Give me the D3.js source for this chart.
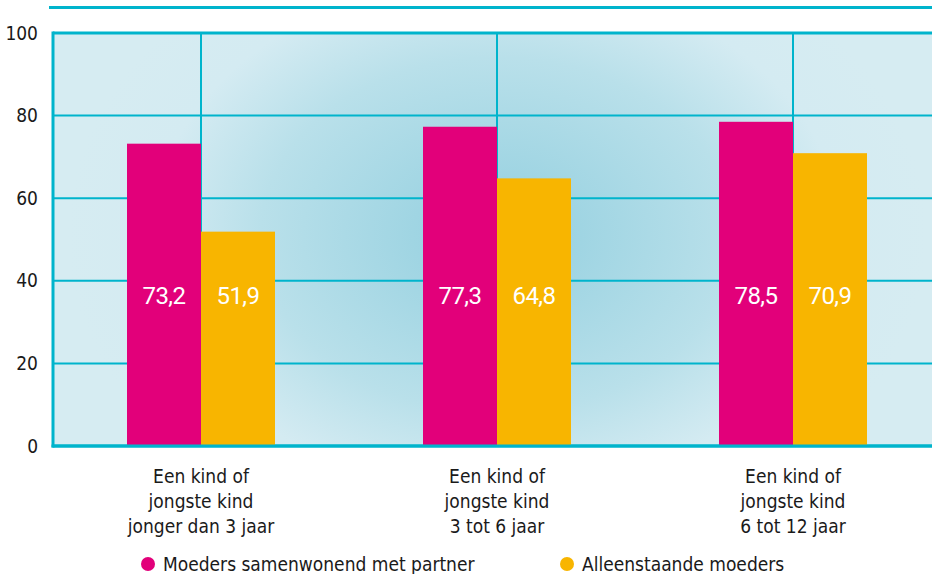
<!DOCTYPE html>
<html><head><meta charset="utf-8">
<script src="https://cdn.jsdelivr.net/npm/d3@7"></script>
<style>
body{margin:0;background:#fff;}
svg{display:block;}
.cond{font-family:"Liberation Sans Narrow","DejaVu Sans Condensed","Roboto",sans-serif;}
</style></head><body>
<svg id="c" width="932" height="574"></svg>
<script>
const categories = [["Een kind of","jongste kind","jonger dan 3 jaar"],["Een kind of","jongste kind","3 tot 6 jaar"],["Een kind of","jongste kind","6 tot 12 jaar"]];
const seriesNames = ["Moeders samenwonend met partner","Alleenstaande moeders"];
const partner = [73.2, 77.3, 78.5];
const single = [51.9, 64.8, 70.9];
const yTicks = [0,20,40,60,80,100];
const colors = ["#e2007a","#f8b500"];
const teal = "#00b4cc";

const svg = d3.select("#c");
const pL = 53, pT = 33, pB = 446, pR = 941;
const x = d3.scaleBand().domain(d3.range(3)).range([pL, pR]).paddingInner(0.5).paddingOuter(0.25);
const xs = d3.scaleBand().domain([0,1]).range([0, x.bandwidth()]);
const y = d3.scaleLinear().domain([0,100]).range([pB, pT]);

const defs = svg.append("defs");
const g = defs.append("radialGradient").attr("id","bg").attr("gradientUnits","userSpaceOnUse")
  .attr("cx",497).attr("cy",235).attr("r",430).attr("gradientTransform","translate(497,235) scale(1,0.75) translate(-497,-235)");
g.append("stop").attr("offset","0").attr("stop-color","#92cfdf");
g.append("stop").attr("offset","0.55").attr("stop-color","#b9e0ea");
g.append("stop").attr("offset","0.8").attr("stop-color","#d4ebf2");
g.append("stop").attr("offset","1").attr("stop-color","#d6ecf2");

svg.append("rect").attr("x",pL).attr("y",pT).attr("width",932-pL).attr("height",pB-pT).attr("fill","url(#bg)");

// top line
svg.append("line").attr("x1",49).attr("x2",932).attr("y1",7.5).attr("y2",7.5).attr("stroke",teal).attr("stroke-width",3);

// grid
svg.append("g").selectAll("line").data(yTicks).join("line")
  .attr("x1",pL).attr("x2",932).attr("y1",d=>y(d)).attr("y2",d=>y(d))
  .attr("stroke",teal).attr("stroke-width",d=>(d===0||d===100)?3:2);
svg.append("g").selectAll("line").data(d3.range(3)).join("line")
  .attr("x1",d=>x(d)+x.bandwidth()/2).attr("x2",d=>x(d)+x.bandwidth()/2)
  .attr("y1",pT).attr("y2",pB).attr("stroke",teal).attr("stroke-width",2);
svg.append("line").attr("x1",pL).attr("x2",pL).attr("y1",pT-1.5).attr("y2",pB+1.5).attr("stroke",teal).attr("stroke-width",3);

// bars
const data = d3.range(3).flatMap(i=>[{i,s:0,v:partner[i]},{i,s:1,v:single[i]}]);
svg.append("g").selectAll("rect").data(data).join("rect")
  .attr("x",d=>x(d.i)+xs(d.s)).attr("width",xs.bandwidth())
  .attr("y",d=>y(d.v)).attr("height",d=>y(0)-y(d.v)).attr("fill",d=>colors[d.s]);
// bottom axis line over bars
svg.append("line").attr("x1",pL-1.5).attr("x2",932).attr("y1",pB).attr("y2",pB).attr("stroke",teal).attr("stroke-width",3);

svg.append("g").selectAll("text").data(data).join("text")
  .attr("x",d=>x(d.i)+xs(d.s)+xs.bandwidth()/2).attr("y",295).attr("dy","0.36em")
  .attr("text-anchor","middle").attr("fill","#fff").attr("font-family","Roboto, sans-serif").attr("font-size",24)
  .attr("letter-spacing","-0.6")
  .text(d=>d.v.toFixed(1).replace(".",","));

// y labels
svg.append("g").selectAll("text").data(yTicks).join("text").attr("class","cond")
  .attr("x",38).attr("y",d=>y(d)).attr("dy","0.35em").attr("text-anchor","end")
  .attr("font-size",19).attr("fill","#1a1a1a").text(d=>d);

// category labels
const cl = svg.append("g").selectAll("text").data(categories).join("text").attr("class","cond")
  .attr("text-anchor","middle").attr("font-size",19).attr("fill","#1a1a1a");
cl.selectAll("tspan").data((d,i)=>d.map(t=>({t,i}))).join("tspan")
  .attr("x",d=>x(d.i)+x.bandwidth()/2).attr("y",(d,j)=>483+j*25).text(d=>d.t);

// legend
const lx = [148, 567];
const lg = svg.append("g").selectAll("g").data(seriesNames).join("g").attr("transform",(d,i)=>`translate(${lx[i]},564)`);
lg.append("circle").attr("r",7).attr("fill",(d,i)=>colors[i]);
lg.append("text").attr("class","cond").attr("x",15).attr("dy","0.35em").attr("font-size",19).attr("fill","#1a1a1a").text(d=>d);
</script></body></html>
